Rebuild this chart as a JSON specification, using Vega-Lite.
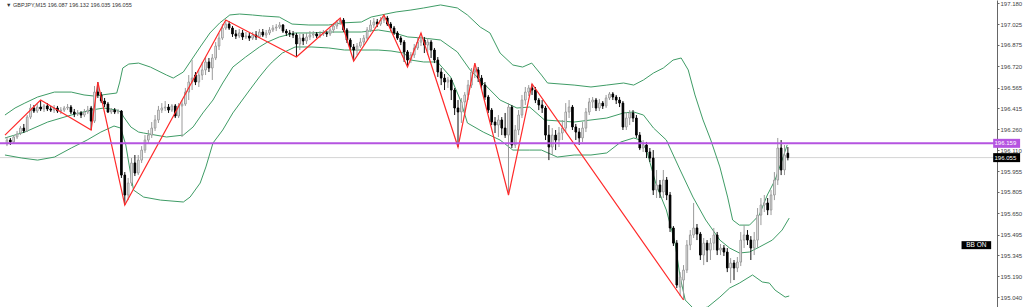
{
"$schema": "https://vega.github.io/schema/vega-lite/v6.json",
"width": 997, "height": 307,
"autosize": {"type": "none"},
"padding": {"left": 0, "top": 0, "right": 27, "bottom": 0},
"background": "#ffffff",
"config": {"view": {"stroke": null}, "axisY": {"grid": false, "domainColor": "#666666", "domainWidth": 1, "tickColor": "#666666", "tickSize": 2, "labelPadding": 1, "labelFont": "Liberation Sans", "labelFontSize": 6, "labelColor": "#444444", "title": null, "labelBound": false, "labelOverlap": false}},
"datasets": {
"candles": [
{"i":0,"o":196.154,"h":196.205,"l":196.139,"c":196.183},
{"i":1,"o":196.183,"h":196.198,"l":196.147,"c":196.169},
{"i":2,"o":196.169,"h":196.219,"l":196.161,"c":196.205},
{"i":3,"o":196.205,"h":196.249,"l":196.190,"c":196.227},
{"i":4,"o":196.234,"h":196.285,"l":196.219,"c":196.270},
{"i":5,"o":196.270,"h":196.300,"l":196.234,"c":196.249},
{"i":6,"o":196.249,"h":196.365,"l":196.241,"c":196.350},
{"i":7,"o":196.350,"h":196.445,"l":196.336,"c":196.416},
{"i":8,"o":196.416,"h":196.438,"l":196.380,"c":196.394},
{"i":9,"o":196.394,"h":196.445,"l":196.380,"c":196.423},
{"i":10,"o":196.423,"h":196.474,"l":196.394,"c":196.409},
{"i":11,"o":196.409,"h":196.445,"l":196.387,"c":196.431},
{"i":12,"o":196.431,"h":196.452,"l":196.394,"c":196.409},
{"i":13,"o":196.409,"h":196.431,"l":196.387,"c":196.401},
{"i":14,"o":196.401,"h":196.438,"l":196.380,"c":196.416},
{"i":15,"o":196.416,"h":196.431,"l":196.380,"c":196.394},
{"i":16,"o":196.394,"h":196.423,"l":196.372,"c":196.401},
{"i":17,"o":196.401,"h":196.431,"l":196.387,"c":196.416},
{"i":18,"o":196.416,"h":196.445,"l":196.401,"c":196.423},
{"i":19,"o":196.423,"h":196.438,"l":196.372,"c":196.387},
{"i":20,"o":196.387,"h":196.409,"l":196.350,"c":196.372},
{"i":21,"o":196.372,"h":196.401,"l":196.358,"c":196.380},
{"i":22,"o":196.380,"h":196.394,"l":196.343,"c":196.365},
{"i":23,"o":196.365,"h":196.409,"l":196.350,"c":196.387},
{"i":24,"o":196.387,"h":196.431,"l":196.372,"c":196.401},
{"i":25,"o":196.416,"h":196.431,"l":196.256,"c":196.321},
{"i":26,"o":196.321,"h":196.576,"l":196.307,"c":196.532},
{"i":27,"o":196.532,"h":196.605,"l":196.489,"c":196.511},
{"i":28,"o":196.511,"h":196.532,"l":196.452,"c":196.467},
{"i":29,"o":196.467,"h":196.489,"l":196.423,"c":196.445},
{"i":30,"o":196.445,"h":196.460,"l":196.380,"c":196.387},
{"i":31,"o":196.387,"h":196.416,"l":196.372,"c":196.401},
{"i":32,"o":196.401,"h":196.416,"l":196.372,"c":196.387},
{"i":33,"o":196.387,"h":196.409,"l":196.372,"c":196.394},
{"i":34,"o":196.394,"h":196.401,"l":195.907,"c":195.928},
{"i":35,"o":195.928,"h":195.950,"l":195.710,"c":195.783},
{"i":36,"o":195.783,"h":195.907,"l":195.746,"c":195.870},
{"i":37,"o":195.870,"h":196.052,"l":195.848,"c":196.016},
{"i":38,"o":196.016,"h":196.074,"l":195.921,"c":195.943},
{"i":39,"o":195.943,"h":196.074,"l":195.928,"c":196.037},
{"i":40,"o":196.037,"h":196.139,"l":196.016,"c":196.110},
{"i":41,"o":196.110,"h":196.219,"l":196.089,"c":196.183},
{"i":42,"o":196.183,"h":196.256,"l":196.161,"c":196.219},
{"i":43,"o":196.219,"h":196.314,"l":196.198,"c":196.270},
{"i":44,"o":196.270,"h":196.365,"l":196.249,"c":196.329},
{"i":45,"o":196.329,"h":196.431,"l":196.307,"c":196.401},
{"i":46,"o":196.401,"h":196.452,"l":196.380,"c":196.416},
{"i":47,"o":196.416,"h":196.467,"l":196.394,"c":196.423},
{"i":48,"o":196.423,"h":196.445,"l":196.380,"c":196.401},
{"i":49,"o":196.401,"h":196.445,"l":196.387,"c":196.431},
{"i":50,"o":196.431,"h":196.445,"l":196.343,"c":196.358},
{"i":51,"o":196.358,"h":196.452,"l":196.343,"c":196.431},
{"i":52,"o":196.431,"h":196.474,"l":196.205,"c":196.445},
{"i":53,"o":196.445,"h":196.562,"l":196.431,"c":196.532},
{"i":54,"o":196.532,"h":196.656,"l":196.474,"c":196.605},
{"i":55,"o":196.605,"h":196.765,"l":196.547,"c":196.634},
{"i":56,"o":196.656,"h":196.678,"l":196.583,"c":196.605},
{"i":57,"o":196.605,"h":196.693,"l":196.569,"c":196.656},
{"i":58,"o":196.656,"h":196.751,"l":196.620,"c":196.693},
{"i":59,"o":196.693,"h":196.787,"l":196.656,"c":196.751},
{"i":60,"o":196.751,"h":196.780,"l":196.678,"c":196.707},
{"i":61,"o":196.707,"h":196.809,"l":196.620,"c":196.780},
{"i":62,"o":196.780,"h":196.896,"l":196.765,"c":196.867},
{"i":63,"o":196.867,"h":196.962,"l":196.838,"c":196.925},
{"i":64,"o":196.925,"h":197.027,"l":196.911,"c":196.998},
{"i":65,"o":196.998,"h":197.056,"l":196.984,"c":197.027},
{"i":66,"o":197.027,"h":197.049,"l":196.984,"c":196.998},
{"i":67,"o":196.998,"h":197.013,"l":196.933,"c":196.955},
{"i":68,"o":196.955,"h":196.984,"l":196.918,"c":196.940},
{"i":69,"o":196.940,"h":196.991,"l":196.925,"c":196.962},
{"i":70,"o":196.962,"h":196.984,"l":196.911,"c":196.933},
{"i":71,"o":196.933,"h":196.969,"l":196.918,"c":196.940},
{"i":72,"o":196.940,"h":196.962,"l":196.904,"c":196.925},
{"i":73,"o":196.925,"h":196.969,"l":196.911,"c":196.947},
{"i":74,"o":196.947,"h":196.976,"l":196.911,"c":196.933},
{"i":75,"o":196.933,"h":196.991,"l":196.925,"c":196.969},
{"i":76,"o":196.969,"h":196.991,"l":196.933,"c":196.947},
{"i":77,"o":196.947,"h":196.984,"l":196.925,"c":196.962},
{"i":78,"o":196.962,"h":197.005,"l":196.947,"c":196.984},
{"i":79,"o":196.984,"h":197.020,"l":196.969,"c":196.998},
{"i":80,"o":196.998,"h":197.027,"l":196.976,"c":197.005},
{"i":81,"o":197.005,"h":197.042,"l":196.991,"c":197.020},
{"i":82,"o":197.020,"h":197.027,"l":196.962,"c":196.976},
{"i":83,"o":196.976,"h":196.991,"l":196.940,"c":196.962},
{"i":84,"o":196.962,"h":196.984,"l":196.933,"c":196.955},
{"i":85,"o":196.955,"h":196.976,"l":196.925,"c":196.947},
{"i":86,"o":196.947,"h":196.962,"l":196.787,"c":196.882},
{"i":87,"o":196.882,"h":196.955,"l":196.838,"c":196.925},
{"i":88,"o":196.925,"h":196.955,"l":196.874,"c":196.904},
{"i":89,"o":196.904,"h":196.962,"l":196.882,"c":196.933},
{"i":90,"o":196.933,"h":196.976,"l":196.911,"c":196.947},
{"i":91,"o":196.947,"h":196.976,"l":196.925,"c":196.955},
{"i":92,"o":196.955,"h":196.969,"l":196.925,"c":196.940},
{"i":93,"o":196.940,"h":196.976,"l":196.925,"c":196.955},
{"i":94,"o":196.955,"h":196.984,"l":196.940,"c":196.962},
{"i":95,"o":196.962,"h":196.976,"l":196.933,"c":196.955},
{"i":96,"o":196.955,"h":196.998,"l":196.940,"c":196.984},
{"i":97,"o":196.984,"h":197.035,"l":196.962,"c":197.013},
{"i":98,"o":197.013,"h":197.056,"l":196.991,"c":197.042},
{"i":99,"o":197.042,"h":197.071,"l":197.020,"c":197.056},
{"i":100,"o":197.056,"h":197.071,"l":196.969,"c":196.984},
{"i":101,"o":196.984,"h":196.998,"l":196.889,"c":196.911},
{"i":102,"o":196.911,"h":196.925,"l":196.838,"c":196.860},
{"i":103,"o":196.860,"h":196.882,"l":196.758,"c":196.838},
{"i":104,"o":196.838,"h":196.889,"l":196.802,"c":196.867},
{"i":105,"o":196.867,"h":196.925,"l":196.853,"c":196.896},
{"i":106,"o":196.896,"h":196.947,"l":196.874,"c":196.925},
{"i":107,"o":196.925,"h":197.005,"l":196.911,"c":196.984},
{"i":108,"o":196.984,"h":197.056,"l":196.969,"c":197.020},
{"i":109,"o":197.020,"h":197.071,"l":196.998,"c":197.042},
{"i":110,"o":197.042,"h":197.064,"l":197.005,"c":197.027},
{"i":111,"o":197.027,"h":197.078,"l":197.013,"c":197.056},
{"i":112,"o":197.056,"h":197.093,"l":197.035,"c":197.071},
{"i":113,"o":197.071,"h":197.086,"l":197.013,"c":197.027},
{"i":114,"o":197.027,"h":197.042,"l":196.976,"c":196.998},
{"i":115,"o":196.998,"h":197.013,"l":196.947,"c":196.962},
{"i":116,"o":196.962,"h":196.976,"l":196.911,"c":196.925},
{"i":117,"o":196.925,"h":196.940,"l":196.874,"c":196.896},
{"i":118,"o":196.896,"h":196.911,"l":196.751,"c":196.824},
{"i":119,"o":196.824,"h":196.838,"l":196.714,"c":196.765},
{"i":120,"o":196.765,"h":196.824,"l":196.743,"c":196.802},
{"i":121,"o":196.802,"h":196.882,"l":196.780,"c":196.853},
{"i":122,"o":196.853,"h":196.933,"l":196.838,"c":196.896},
{"i":123,"o":196.896,"h":196.962,"l":196.867,"c":196.911},
{"i":124,"o":196.911,"h":196.933,"l":196.816,"c":196.874},
{"i":125,"o":196.874,"h":196.925,"l":196.802,"c":196.896},
{"i":126,"o":196.896,"h":196.911,"l":196.780,"c":196.838},
{"i":127,"o":196.838,"h":196.853,"l":196.743,"c":196.765},
{"i":128,"o":196.765,"h":196.787,"l":196.642,"c":196.678},
{"i":129,"o":196.678,"h":196.707,"l":196.583,"c":196.634},
{"i":130,"o":196.634,"h":196.663,"l":196.547,"c":196.605},
{"i":131,"o":196.605,"h":196.642,"l":196.562,"c":196.620},
{"i":132,"o":196.620,"h":196.634,"l":196.474,"c":196.547},
{"i":133,"o":196.547,"h":196.562,"l":196.365,"c":196.416},
{"i":134,"o":196.416,"h":196.474,"l":196.132,"c":196.387},
{"i":135,"o":196.387,"h":196.489,"l":196.307,"c":196.460},
{"i":136,"o":196.460,"h":196.532,"l":196.365,"c":196.511},
{"i":137,"o":196.511,"h":196.620,"l":196.474,"c":196.583},
{"i":138,"o":196.583,"h":196.707,"l":196.562,"c":196.678},
{"i":139,"o":196.678,"h":196.743,"l":196.634,"c":196.693},
{"i":140,"o":196.693,"h":196.714,"l":196.605,"c":196.634},
{"i":141,"o":196.634,"h":196.656,"l":196.547,"c":196.583},
{"i":142,"o":196.583,"h":196.605,"l":196.474,"c":196.496},
{"i":143,"o":196.496,"h":196.511,"l":196.380,"c":196.401},
{"i":144,"o":196.401,"h":196.416,"l":196.292,"c":196.314},
{"i":145,"o":196.314,"h":196.350,"l":196.234,"c":196.292},
{"i":146,"o":196.292,"h":196.365,"l":196.205,"c":196.329},
{"i":147,"o":196.329,"h":196.350,"l":196.219,"c":196.270},
{"i":148,"o":196.270,"h":196.380,"l":196.198,"c":196.219},
{"i":149,"o":196.219,"h":196.452,"l":195.783,"c":196.423},
{"i":150,"o":196.423,"h":196.438,"l":196.125,"c":196.147},
{"i":151,"o":196.147,"h":196.292,"l":196.125,"c":196.256},
{"i":152,"o":196.256,"h":196.401,"l":196.219,"c":196.365},
{"i":153,"o":196.365,"h":196.511,"l":196.343,"c":196.474},
{"i":154,"o":196.474,"h":196.569,"l":196.438,"c":196.532},
{"i":155,"o":196.532,"h":196.583,"l":196.503,"c":196.562},
{"i":156,"o":196.562,"h":196.591,"l":196.511,"c":196.547},
{"i":157,"o":196.547,"h":196.569,"l":196.452,"c":196.474},
{"i":158,"o":196.474,"h":196.489,"l":196.401,"c":196.438},
{"i":159,"o":196.438,"h":196.474,"l":196.380,"c":196.416},
{"i":160,"o":196.416,"h":196.431,"l":196.183,"c":196.219},
{"i":161,"o":196.219,"h":196.292,"l":196.037,"c":196.132},
{"i":162,"o":196.132,"h":196.270,"l":196.074,"c":196.219},
{"i":163,"o":196.219,"h":196.256,"l":196.110,"c":196.183},
{"i":164,"o":196.183,"h":196.278,"l":196.132,"c":196.234},
{"i":165,"o":196.234,"h":196.329,"l":196.183,"c":196.270},
{"i":166,"o":196.270,"h":196.452,"l":196.241,"c":196.387},
{"i":167,"o":196.387,"h":196.474,"l":196.343,"c":196.423},
{"i":168,"o":196.423,"h":196.438,"l":196.256,"c":196.278},
{"i":169,"o":196.278,"h":196.300,"l":196.183,"c":196.241},
{"i":170,"o":196.241,"h":196.270,"l":196.147,"c":196.198},
{"i":171,"o":196.198,"h":196.314,"l":196.169,"c":196.270},
{"i":172,"o":196.270,"h":196.416,"l":196.241,"c":196.387},
{"i":173,"o":196.387,"h":196.489,"l":196.365,"c":196.460},
{"i":174,"o":196.460,"h":196.496,"l":196.416,"c":196.474},
{"i":175,"o":196.474,"h":196.489,"l":196.394,"c":196.416},
{"i":176,"o":196.416,"h":196.482,"l":196.394,"c":196.452},
{"i":177,"o":196.452,"h":196.467,"l":196.409,"c":196.431},
{"i":178,"o":196.431,"h":196.511,"l":196.416,"c":196.489},
{"i":179,"o":196.489,"h":196.532,"l":196.474,"c":196.518},
{"i":180,"o":196.518,"h":196.532,"l":196.474,"c":196.496},
{"i":181,"o":196.496,"h":196.511,"l":196.445,"c":196.474},
{"i":182,"o":196.474,"h":196.496,"l":196.423,"c":196.452},
{"i":183,"o":196.452,"h":196.467,"l":196.256,"c":196.278},
{"i":184,"o":196.278,"h":196.387,"l":196.256,"c":196.343},
{"i":185,"o":196.343,"h":196.401,"l":196.292,"c":196.380},
{"i":186,"o":196.380,"h":196.401,"l":196.314,"c":196.343},
{"i":187,"o":196.343,"h":196.365,"l":196.198,"c":196.219},
{"i":188,"o":196.219,"h":196.241,"l":196.110,"c":196.125},
{"i":189,"o":196.125,"h":196.183,"l":196.096,"c":196.147},
{"i":190,"o":196.147,"h":196.169,"l":196.052,"c":196.096},
{"i":191,"o":196.096,"h":196.125,"l":196.023,"c":196.052},
{"i":192,"o":196.052,"h":196.110,"l":195.783,"c":195.819},
{"i":193,"o":195.819,"h":195.965,"l":195.761,"c":195.856},
{"i":194,"o":195.856,"h":195.892,"l":195.761,"c":195.805},
{"i":195,"o":195.805,"h":195.965,"l":195.761,"c":195.892},
{"i":196,"o":195.892,"h":195.914,"l":195.746,"c":195.783},
{"i":197,"o":195.783,"h":195.805,"l":195.514,"c":195.543},
{"i":198,"o":195.543,"h":195.557,"l":195.412,"c":195.433},
{"i":199,"o":195.433,"h":195.455,"l":195.106,"c":195.128},
{"i":200,"o":195.113,"h":195.222,"l":195.048,"c":195.186},
{"i":201,"o":195.164,"h":195.273,"l":195.019,"c":195.237},
{"i":202,"o":195.237,"h":195.455,"l":195.215,"c":195.419},
{"i":203,"o":195.419,"h":195.528,"l":195.382,"c":195.492},
{"i":204,"o":195.492,"h":195.725,"l":195.470,"c":195.543},
{"i":205,"o":195.543,"h":195.572,"l":195.455,"c":195.499},
{"i":206,"o":195.499,"h":195.514,"l":195.310,"c":195.346},
{"i":207,"o":195.346,"h":195.470,"l":195.273,"c":195.433},
{"i":208,"o":195.433,"h":195.455,"l":195.295,"c":195.382},
{"i":209,"o":195.382,"h":195.470,"l":195.310,"c":195.433},
{"i":210,"o":195.433,"h":195.543,"l":195.382,"c":195.492},
{"i":211,"o":195.492,"h":195.514,"l":195.346,"c":195.382},
{"i":212,"o":195.382,"h":195.426,"l":195.346,"c":195.397},
{"i":213,"o":195.397,"h":195.419,"l":195.339,"c":195.368},
{"i":214,"o":195.368,"h":195.397,"l":195.222,"c":195.252},
{"i":215,"o":195.252,"h":195.324,"l":195.142,"c":195.288},
{"i":216,"o":195.288,"h":195.310,"l":195.164,"c":195.252},
{"i":217,"o":195.252,"h":195.332,"l":195.222,"c":195.295},
{"i":218,"o":195.295,"h":195.514,"l":195.266,"c":195.455},
{"i":219,"o":195.455,"h":195.564,"l":195.397,"c":195.492},
{"i":220,"o":195.492,"h":195.528,"l":195.419,"c":195.455},
{"i":221,"o":195.455,"h":195.484,"l":195.310,"c":195.397},
{"i":222,"o":195.397,"h":195.514,"l":195.346,"c":195.455},
{"i":223,"o":195.455,"h":195.688,"l":195.397,"c":195.637},
{"i":224,"o":195.637,"h":195.761,"l":195.564,"c":195.710},
{"i":225,"o":195.710,"h":195.783,"l":195.659,"c":195.725},
{"i":226,"o":195.725,"h":195.761,"l":195.637,"c":195.674},
{"i":227,"o":195.674,"h":195.819,"l":195.637,"c":195.783},
{"i":228,"o":195.783,"h":195.950,"l":195.746,"c":195.892},
{"i":229,"o":195.892,"h":196.198,"l":195.856,"c":196.125},
{"i":230,"o":196.125,"h":196.183,"l":195.928,"c":195.965},
{"i":231,"o":195.965,"h":196.147,"l":195.928,"c":196.074},
{"i":232,"o":196.087,"h":196.132,"l":196.035,"c":196.055}
],
"bands": [
{"b":"u","i":-0.6,"v":196.365},{"b":"u","i":2.4,"v":196.416},{"b":"u","i":5.3,"v":196.452},{"b":"u","i":9.1,"v":196.496},{"b":"u","i":14.1,"v":196.532},{"b":"u","i":19.1,"v":196.532},{"b":"u","i":22.9,"v":196.511},{"b":"u","i":25.9,"v":196.503},{"b":"u","i":30.3,"v":196.518},{"b":"u","i":32.6,"v":196.525},{"b":"u","i":33.5,"v":196.605},{"b":"u","i":34.4,"v":196.707},{"b":"u","i":36.2,"v":196.736},{"b":"u","i":39.1,"v":196.743},{"b":"u","i":42.6,"v":196.714},{"b":"u","i":47.4,"v":196.656},{"b":"u","i":49.4,"v":196.634},{"b":"u","i":52.4,"v":196.678},{"b":"u","i":54.4,"v":196.751},{"b":"u","i":57.4,"v":196.860},{"b":"u","i":60.3,"v":196.962},{"b":"u","i":63.2,"v":197.035},{"b":"u","i":66.2,"v":197.093},{"b":"u","i":69.1,"v":197.100},{"b":"u","i":72.9,"v":197.093},{"b":"u","i":75.9,"v":197.086},{"b":"u","i":80.9,"v":197.078},{"b":"u","i":84.7,"v":197.027},{"b":"u","i":89.7,"v":197.020},{"b":"u","i":95.6,"v":197.020},{"b":"u","i":99.4,"v":197.035},{"b":"u","i":105.3,"v":197.042},{"b":"u","i":108.2,"v":197.078},{"b":"u","i":111.2,"v":197.093},{"b":"u","i":115.6,"v":197.115},{"b":"u","i":120,"v":197.129},{"b":"u","i":123.8,"v":197.144},{"b":"u","i":128.8,"v":197.166},{"b":"u","i":133.8,"v":197.144},{"b":"u","i":136.8,"v":197.093},{"b":"u","i":140.6,"v":197.005},{"b":"u","i":143.5,"v":196.962},{"b":"u","i":146.5,"v":196.816},{"b":"u","i":150.3,"v":196.729},{"b":"u","i":153.2,"v":196.714},{"b":"u","i":155.9,"v":196.743},{"b":"u","i":158.8,"v":196.656},{"b":"u","i":160.6,"v":196.598},{"b":"u","i":168.5,"v":196.583},{"b":"u","i":173.5,"v":196.569},{"b":"u","i":178.2,"v":196.583},{"b":"u","i":183.2,"v":196.598},{"b":"u","i":186.2,"v":196.583},{"b":"u","i":189.1,"v":196.620},{"b":"u","i":192.1,"v":196.671},{"b":"u","i":195,"v":196.707},{"b":"u","i":197.9,"v":196.765},{"b":"u","i":200.3,"v":196.780},{"b":"u","i":202.4,"v":196.693},{"b":"u","i":204.4,"v":196.511},{"b":"u","i":206.8,"v":196.329},{"b":"u","i":209.1,"v":196.183},{"b":"u","i":211.8,"v":195.987},{"b":"u","i":214.1,"v":195.768},{"b":"u","i":215.6,"v":195.601},{"b":"u","i":217.6,"v":195.564},{"b":"u","i":220.6,"v":195.564},{"b":"u","i":222.1,"v":195.601},{"b":"u","i":223.5,"v":195.637},{"b":"u","i":225.9,"v":195.783},{"b":"u","i":228.2,"v":195.892},{"b":"u","i":230.3,"v":196.037},{"b":"u","i":231.8,"v":196.147},
{"b":"m","i":-0.6,"v":196.198},{"b":"m","i":5.3,"v":196.241},{"b":"m","i":12.1,"v":196.314},{"b":"m","i":19.1,"v":196.365},{"b":"m","i":25,"v":196.401},{"b":"m","i":28.8,"v":196.416},{"b":"m","i":32.6,"v":196.401},{"b":"m","i":33.8,"v":196.387},{"b":"m","i":34.7,"v":196.350},{"b":"m","i":36.8,"v":196.278},{"b":"m","i":39.1,"v":196.241},{"b":"m","i":40.6,"v":196.234},{"b":"m","i":47.4,"v":196.205},{"b":"m","i":52.4,"v":196.219},{"b":"m","i":55.3,"v":196.278},{"b":"m","i":58.2,"v":196.380},{"b":"m","i":61.2,"v":196.474},{"b":"m","i":64.1,"v":196.598},{"b":"m","i":67.1,"v":196.714},{"b":"m","i":70.9,"v":196.787},{"b":"m","i":75,"v":196.860},{"b":"m","i":77.4,"v":196.896},{"b":"m","i":80.9,"v":196.933},{"b":"m","i":85.6,"v":196.962},{"b":"m","i":90.6,"v":196.962},{"b":"m","i":95.6,"v":196.969},{"b":"m","i":100.3,"v":196.969},{"b":"m","i":105.3,"v":196.969},{"b":"m","i":110.3,"v":196.984},{"b":"m","i":114.1,"v":196.969},{"b":"m","i":119.1,"v":196.933},{"b":"m","i":123.8,"v":196.925},{"b":"m","i":128.8,"v":196.911},{"b":"m","i":133.8,"v":196.824},{"b":"m","i":137.6,"v":196.693},{"b":"m","i":141.5,"v":196.598},{"b":"m","i":146.5,"v":196.474},{"b":"m","i":151.5,"v":196.416},{"b":"m","i":155.3,"v":196.423},{"b":"m","i":159.7,"v":196.329},{"b":"m","i":168.5,"v":196.314},{"b":"m","i":173.5,"v":196.329},{"b":"m","i":178.2,"v":196.343},{"b":"m","i":183.2,"v":196.380},{"b":"m","i":186.2,"v":196.387},{"b":"m","i":189.1,"v":196.365},{"b":"m","i":192.1,"v":196.270},{"b":"m","i":195.9,"v":196.183},{"b":"m","i":200,"v":195.965},{"b":"m","i":203.8,"v":195.768},{"b":"m","i":207.6,"v":195.601},{"b":"m","i":211.8,"v":195.455},{"b":"m","i":214.7,"v":195.397},{"b":"m","i":217.6,"v":195.361},{"b":"m","i":220.6,"v":195.368},{"b":"m","i":223.5,"v":195.404},{"b":"m","i":227.4,"v":195.455},{"b":"m","i":230.3,"v":195.528},{"b":"m","i":232.4,"v":195.615},
{"b":"l","i":-0.6,"v":196.074},{"b":"l","i":4.4,"v":196.052},{"b":"l","i":9.1,"v":196.037},{"b":"l","i":14.1,"v":196.059},{"b":"l","i":19.1,"v":196.125},{"b":"l","i":23.8,"v":196.183},{"b":"l","i":27.9,"v":196.241},{"b":"l","i":31.8,"v":196.285},{"b":"l","i":33.8,"v":196.270},{"b":"l","i":35.3,"v":196.147},{"b":"l","i":36.8,"v":195.928},{"b":"l","i":37.6,"v":195.819},{"b":"l","i":40.6,"v":195.768},{"b":"l","i":45.6,"v":195.746},{"b":"l","i":52.4,"v":195.732},{"b":"l","i":54.4,"v":195.768},{"b":"l","i":57.4,"v":195.870},{"b":"l","i":59.1,"v":195.987},{"b":"l","i":61.2,"v":196.161},{"b":"l","i":64.1,"v":196.256},{"b":"l","i":67.1,"v":196.380},{"b":"l","i":72.1,"v":196.547},{"b":"l","i":75,"v":196.642},{"b":"l","i":77.4,"v":196.714},{"b":"l","i":78.8,"v":196.751},{"b":"l","i":81.8,"v":196.816},{"b":"l","i":85.6,"v":196.860},{"b":"l","i":90.6,"v":196.860},{"b":"l","i":95.6,"v":196.853},{"b":"l","i":100.3,"v":196.838},{"b":"l","i":105.3,"v":196.838},{"b":"l","i":110.3,"v":196.838},{"b":"l","i":114.1,"v":196.831},{"b":"l","i":117.9,"v":196.816},{"b":"l","i":120,"v":196.765},{"b":"l","i":123.8,"v":196.751},{"b":"l","i":127.9,"v":196.751},{"b":"l","i":131.8,"v":196.642},{"b":"l","i":134.7,"v":196.474},{"b":"l","i":136.8,"v":196.307},{"b":"l","i":141.5,"v":196.241},{"b":"l","i":146.5,"v":196.183},{"b":"l","i":150.3,"v":196.110},{"b":"l","i":155.3,"v":196.110},{"b":"l","i":158.8,"v":196.110},{"b":"l","i":163.5,"v":196.059},{"b":"l","i":168.5,"v":196.074},{"b":"l","i":173.5,"v":196.074},{"b":"l","i":178.2,"v":196.089},{"b":"l","i":182.4,"v":196.169},{"b":"l","i":186.2,"v":196.198},{"b":"l","i":188.2,"v":196.183},{"b":"l","i":190,"v":196.110},{"b":"l","i":192.9,"v":195.856},{"b":"l","i":195.9,"v":195.674},{"b":"l","i":198.5,"v":195.433},{"b":"l","i":200,"v":195.186},{"b":"l","i":201.5,"v":195.019},{"b":"l","i":204.4,"v":194.946},{"b":"l","i":208.2,"v":194.968},{"b":"l","i":211.8,"v":195.040},{"b":"l","i":214.7,"v":195.106},{"b":"l","i":217.6,"v":195.142},{"b":"l","i":221.5,"v":195.201},{"b":"l","i":224.4,"v":195.150},{"b":"l","i":226.5,"v":195.142},{"b":"l","i":228.2,"v":195.091},{"b":"l","i":231.2,"v":195.040},{"b":"l","i":232.4,"v":195.048}
],
"zz": [
{"i":-0.6,"v":196.219},{"i":10,"v":196.474},{"i":25,"v":196.256},{"i":27,"v":196.605},{"i":35,"v":195.710},{"i":65,"v":197.056},{"i":86,"v":196.787},{"i":99,"v":197.071},{"i":103,"v":196.758},{"i":112,"v":197.093},{"i":119,"v":196.714},{"i":123,"v":196.962},{"i":134,"v":196.132},{"i":139,"v":196.743},{"i":149,"v":195.783},{"i":156,"v":196.591},{"i":201,"v":195.019}
]
},
"layer": [
{
"data": {"values": [{"p": 196.055}]},
"mark": {"type": "rule", "stroke": "#d4d4d4", "strokeWidth": 1},
"encoding": {
"y": {"field": "p", "type": "quantitative",
"scale": {"domain": [194.968, 197.202], "zero": false, "nice": false},
"axis": {"orient": "right", "values": [197.180,197.025,196.875,196.720,196.565,196.415,196.260,196.110,195.955,195.805,195.650,195.495,195.345,195.190,195.040], "format": ".3f", "title": null}}
}
},
{
"data": {"name": "bands"},
"mark": {"type": "line", "stroke": "#3f9c66", "strokeWidth": 1, "clip": true},
"encoding": {
"x": {"field": "i", "type": "quantitative", "scale": {"domain": [-0.588, 292.65], "nice": false, "zero": false}, "axis": null},
"y": {"field": "v", "type": "quantitative", "scale": {"domain": [194.968, 197.202], "zero": false, "nice": false},
"axis": {"orient": "right", "values": [197.180,197.025,196.875,196.720,196.565,196.415,196.260,196.110,195.955,195.805,195.650,195.495,195.345,195.190,195.040], "format": ".3f", "title": null}},
"detail": {"field": "b"}
}
},
{
"data": {"name": "candles"},
"mark": {"type": "rule", "strokeWidth": 1},
"encoding": {
"x": {"field": "i", "type": "quantitative", "scale": {"domain": [-0.588, 292.65], "nice": false, "zero": false}, "axis": null},
"y": {"field": "l", "type": "quantitative", "scale": {"domain": [194.968, 197.202], "zero": false, "nice": false},
"axis": {"orient": "right", "values": [197.180,197.025,196.875,196.720,196.565,196.415,196.260,196.110,195.955,195.805,195.650,195.495,195.345,195.190,195.040], "format": ".3f", "title": null}},
"y2": {"field": "h"},
"stroke": {"condition": {"test": "datum.c < datum.o", "value": "#111111"}, "value": "#9a9a9a"}
}
},
{
"data": {"name": "candles"},
"mark": {"type": "bar", "size": 1.6, "strokeWidth": 1},
"encoding": {
"x": {"field": "i", "type": "quantitative", "scale": {"domain": [-0.588, 292.65], "nice": false, "zero": false}, "axis": null},
"y": {"field": "o", "type": "quantitative", "scale": {"domain": [194.968, 197.202], "zero": false, "nice": false},
"axis": {"orient": "right", "values": [197.180,197.025,196.875,196.720,196.565,196.415,196.260,196.110,195.955,195.805,195.650,195.495,195.345,195.190,195.040], "format": ".3f", "title": null}},
"y2": {"field": "c"},
"fill": {"condition": {"test": "datum.c < datum.o", "value": "#000000"}, "value": "#ffffff"},
"stroke": {"condition": {"test": "datum.c < datum.o", "value": "#000000"}, "value": "#9a9a9a"}
}
},
{
"data": {"name": "zz"},
"mark": {"type": "line", "stroke": "#ff2a2a", "strokeWidth": 1.2, "clip": true},
"encoding": {
"x": {"field": "i", "type": "quantitative", "scale": {"domain": [-0.588, 292.65], "nice": false, "zero": false}, "axis": null},
"y": {"field": "v", "type": "quantitative", "scale": {"domain": [194.968, 197.202], "zero": false, "nice": false},
"axis": {"orient": "right", "values": [197.180,197.025,196.875,196.720,196.565,196.415,196.260,196.110,195.955,195.805,195.650,195.495,195.345,195.190,195.040], "format": ".3f", "title": null}}
}
},
{
"data": {"values": [{"p": 196.159}]},
"mark": {"type": "rule", "stroke": "#b554e0", "strokeWidth": 2},
"encoding": {
"y": {"field": "p", "type": "quantitative", "scale": {"domain": [194.968, 197.202], "zero": false, "nice": false},
"axis": {"orient": "right", "values": [197.180,197.025,196.875,196.720,196.565,196.415,196.260,196.110,195.955,195.805,195.650,195.495,195.345,195.190,195.040], "format": ".3f", "title": null}}
}
},
{
"data": {"values": [{"p": 196.159, "t": "196.159", "k": "line"}, {"p": 196.055, "t": "196.055", "k": "bid"}]},
"mark": {"type": "rule", "strokeWidth": 9},
"encoding": {
"x": {"datum": 293.0, "type": "quantitative", "scale": {"domain": [-0.588, 292.65], "nice": false, "zero": false}, "axis": null},
"x2": {"datum": 301},
"y": {"field": "p", "type": "quantitative", "scale": {"domain": [194.968, 197.202], "zero": false, "nice": false},
"axis": {"orient": "right", "values": [197.180,197.025,196.875,196.720,196.565,196.415,196.260,196.110,195.955,195.805,195.650,195.495,195.345,195.190,195.040], "format": ".3f", "title": null}},
"stroke": {"field": "k", "type": "nominal", "scale": {"domain": ["line", "bid"], "range": ["#b554e0", "#000000"]}, "legend": null}
}
},
{
"data": {"values": [{"p": 196.159, "t": "196.159"}, {"p": 196.055, "t": "196.055"}]},
"mark": {"type": "text", "align": "left", "baseline": "middle", "font": "Liberation Sans", "fontSize": 6, "fill": "#ffffff"},
"encoding": {
"x": {"datum": 293.4, "type": "quantitative", "scale": {"domain": [-0.588, 292.65], "nice": false, "zero": false}, "axis": null},
"y": {"field": "p", "type": "quantitative", "scale": {"domain": [194.968, 197.202], "zero": false, "nice": false},
"axis": {"orient": "right", "values": [197.180,197.025,196.875,196.720,196.565,196.415,196.260,196.110,195.955,195.805,195.650,195.495,195.345,195.190,195.040], "format": ".3f", "title": null}},
"text": {"field": "t"}
}
},
{
"data": {"values": [{"p": 195.418, "t": "BB ON"}]},
"mark": {"type": "rule", "strokeWidth": 8, "stroke": "#000000"},
"encoding": {
"x": {"datum": 283.6, "type": "quantitative", "scale": {"domain": [-0.588, 292.65], "nice": false, "zero": false}, "axis": null},
"x2": {"datum": 292.4},
"y": {"field": "p", "type": "quantitative", "scale": {"domain": [194.968, 197.202], "zero": false, "nice": false},
"axis": {"orient": "right", "values": [197.180,197.025,196.875,196.720,196.565,196.415,196.260,196.110,195.955,195.805,195.650,195.495,195.345,195.190,195.040], "format": ".3f", "title": null}}
}
},
{
"data": {"values": [{"p": 195.418, "t": "BB ON"}]},
"mark": {"type": "text", "align": "center", "baseline": "middle", "font": "Liberation Sans", "fontSize": 6.5, "fill": "#ffffff"},
"encoding": {
"x": {"datum": 288.0, "type": "quantitative", "scale": {"domain": [-0.588, 292.65], "nice": false, "zero": false}, "axis": null},
"y": {"field": "p", "type": "quantitative", "scale": {"domain": [194.968, 197.202], "zero": false, "nice": false},
"axis": {"orient": "right", "values": [197.180,197.025,196.875,196.720,196.565,196.415,196.260,196.110,195.955,195.805,195.650,195.495,195.345,195.190,195.040], "format": ".3f", "title": null}},
"text": {"field": "t"}
}
},
{
"data": {"values": [{"p": 197.166, "t": "▼ GBPJPY,M15  196.087 196.132 196.035 196.055"}]},
"mark": {"type": "text", "align": "left", "baseline": "middle", "font": "Liberation Sans", "fontSize": 5.5, "fill": "#333333"},
"encoding": {
"x": {"datum": -0.3, "type": "quantitative", "scale": {"domain": [-0.588, 292.65], "nice": false, "zero": false}, "axis": null},
"y": {"field": "p", "type": "quantitative", "scale": {"domain": [194.968, 197.202], "zero": false, "nice": false},
"axis": {"orient": "right", "values": [197.180,197.025,196.875,196.720,196.565,196.415,196.260,196.110,195.955,195.805,195.650,195.495,195.345,195.190,195.040], "format": ".3f", "title": null}},
"text": {"field": "t"}
}
}
]
}
